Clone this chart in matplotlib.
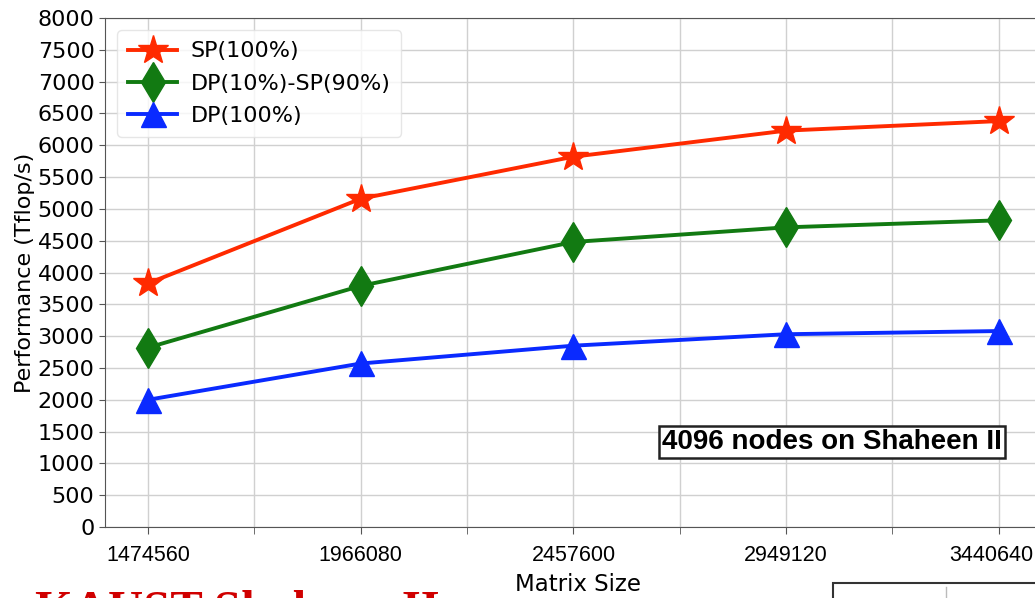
import numpy as np
import matplotlib.pyplot as plt
from matplotlib.patches import Rectangle
from matplotlib.transforms import ScaledTranslation

# matrix sizes (x categories) and measured performance in Tflop/s
matrix_sizes = ['1474560', '1966080', '2457600', '2949120', '3440640']
sp_100 = [3830, 5160, 5820, 6230, 6380]
dp10_sp90 = [2820, 3790, 4480, 4710, 4820]
dp_100 = [2000, 2570, 2850, 3030, 3080]

fig = plt.figure(figsize=(10.35, 5.98), dpi=100)
# axes run past the right edge of the figure
ax = fig.add_axes([0.1014, 0.1187, 0.915, 0.8512])

x = np.arange(len(matrix_sizes))

ax.plot(x, sp_100, color='#ff2a00', lw=2.8, marker='*', ms=22,
        label='SP(100%)')
ax.plot(x, dp10_sp90, color='#127a12', lw=2.8, marker='d', ms=20,
        label='DP(10%)-SP(90%)')
ax.plot(x, dp_100, color='#0a2aff', lw=2.8, marker='^', ms=18,
        label='DP(100%)')

ax.set_xlim(-0.203, 4.25)
ax.set_ylim(0, 8000)
ax.set_yticks(np.arange(0, 8001, 500))
ax.set_xticks(x)
ax.set_xticks(x[:-1] + 0.5, minor=True)
ax.set_xticklabels(matrix_sizes)
ax.tick_params(axis='x', which='both', length=5, pad=8, color='#555555',
               labelsize=15.5)
ax.tick_params(axis='y', labelsize=16, length=4, color='#555555')
for lab in ax.get_xticklabels():
    lab.set_family('Liberation Sans')
# keep the last label inside the figure
last = ax.get_xticklabels()[-1]
last.set_transform(last.get_transform() + ScaledTranslation(-8 / 100, 0, fig.dpi_scale_trans))

ax.grid(True, which='both', color='#d0d0d0', lw=1)
ax.set_axisbelow(True)
for s in ['left', 'bottom', 'top']:
    ax.spines[s].set_color('#555555')
ax.spines['right'].set_visible(False)

ax.set_ylabel('Performance (Tflop/s)', fontsize=16, labelpad=2)
ax.set_xlabel('Matrix Size', fontsize=16.5, labelpad=5)

ax.legend(loc='upper left', fontsize=16, handlelength=2.2,
          handletextpad=0.6, labelspacing=0.55, borderaxespad=0.55,
          borderpad=0.5, edgecolor='#e0e0e0')

fig.text(1002 / 1035, 0.261, '4096 nodes on Shaheen II',
         ha='right', va='center', fontsize=20, fontweight='bold',
         family='Liberation Sans',
         bbox=dict(boxstyle='square,pad=0.12', fc='white', ec='#222222', lw=1.8))

# slide elements cut off at the bottom edge
fig.text(0.034, -0.043, 'KAUST Shaheen II', color='#d00000', fontsize=35,
         fontweight='bold', family='Liberation Serif', va='baseline')
fig.add_artist(Rectangle((833 / 1035, -0.05), 0.3, 0.075, transform=fig.transFigure,
                         fc='white', ec='#333333', lw=1.5, clip_on=False))
fig.add_artist(plt.Line2D([946 / 1035, 946 / 1035], [0, 0.018],
                          transform=fig.transFigure, color='#bbbbbb', lw=1))

fig.savefig('out.png', dpi=100)
